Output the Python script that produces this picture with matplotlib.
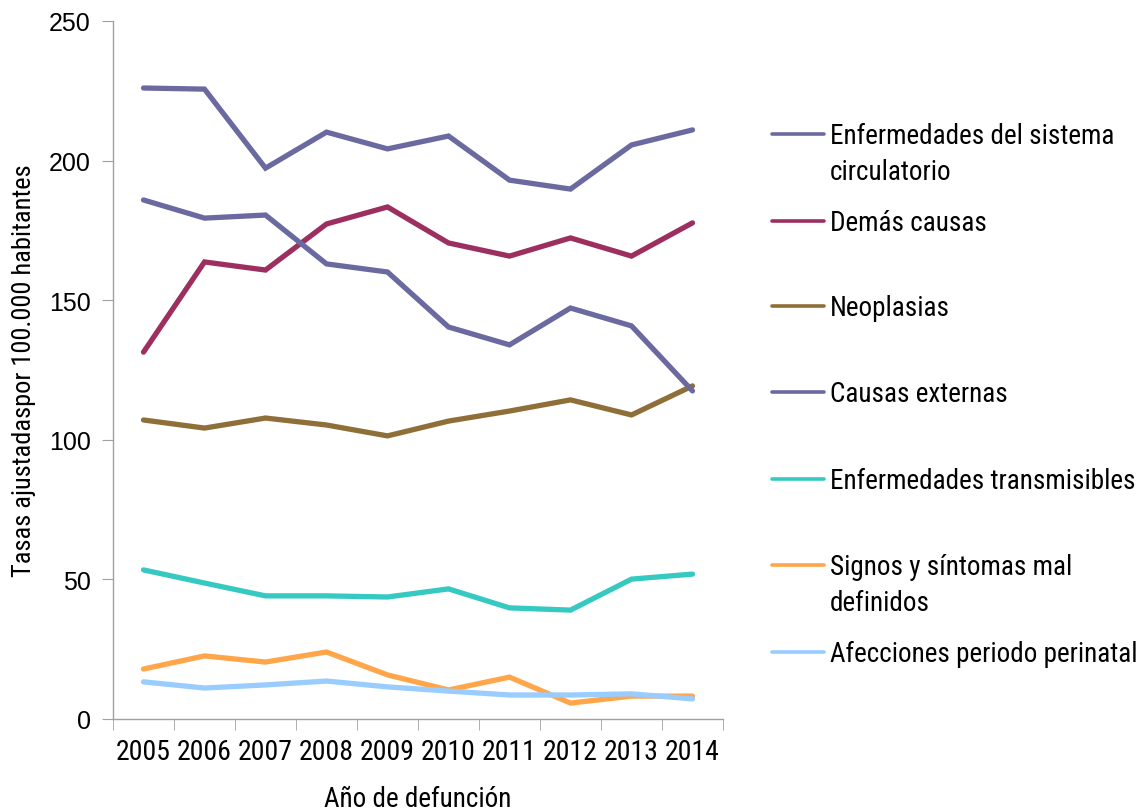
import numpy as np
import matplotlib
matplotlib.use("Agg")
import matplotlib.pyplot as plt
from matplotlib.lines import Line2D

years = ["2005", "2006", "2007", "2008", "2009", "2010", "2011", "2012", "2013", "2014"]

circulatorio = [226.0, 225.6, 197.3, 210.2, 204.2, 208.8, 193.0, 189.8, 205.6, 211.0]
demas_causas = [131.4, 163.7, 160.8, 177.3, 183.4, 170.5, 165.8, 172.3, 165.8, 177.7]
neoplasias = [107.1, 104.2, 107.8, 105.3, 101.4, 106.7, 110.3, 114.3, 108.9, 119.3]
causas_externas = [185.9, 179.4, 180.5, 163.0, 160.1, 140.4, 134.0, 147.2, 140.8, 117.5]
transmisibles = [53.4, 48.7, 44.1, 44.1, 43.7, 46.6, 39.8, 39.0, 50.1, 51.9]
signos = [17.9, 22.6, 20.4, 24.0, 15.8, 10.4, 15.0, 5.7, 8.2, 8.2]
perinatal = [13.3, 11.1, 12.2, 13.6, 11.5, 10.0, 8.6, 8.6, 9.0, 7.2]

labels = [
    "Enfermedades del sistema\ncirculatorio",
    "Demás causas",
    "Neoplasias",
    "Causas externas",
    "Enfermedades transmisibles",
    "Signos y síntomas mal\ndefinidos",
    "Afecciones periodo perinatal",
]
series = [circulatorio, demas_causas, neoplasias, causas_externas,
          transmisibles, signos, perinatal]
colors = ["#6a6aa0", "#9c2f5f", "#8e6f38", "#6a6aa0", "#36c9c2", "#ffa64a", "#99ccff"]

narrow = ["Roboto Condensed", "DejaVu Sans"]
W, H = 1138, 812
fig = plt.figure(figsize=(W / 100, H / 100), dpi=100)
ax = fig.add_axes([113 / W, 1 - 720 / H, 610 / W, 698 / H])

x = np.arange(len(years))
for vals, c in zip(series, colors):
    ax.plot(x, vals, color=c, lw=3.8, solid_capstyle="round", solid_joinstyle="miter")

ax.set_xlim(-0.5, len(years) - 0.5)
ax.set_ylim(0, 250)
ax.set_yticks(range(0, 251, 50))
ax.tick_params(axis="y", labelsize=18, length=8, color="#a0a0a0", pad=8)
for t in ax.get_yticklabels():
    t.set_family(["Liberation Sans", "DejaVu Sans"])

ax.set_xticks(x)
ax.set_xticklabels(years, family=narrow, fontsize=20)
ax.tick_params(axis="x", length=0, pad=14)
ax.set_xticks(np.arange(-0.5, len(years)), minor=True)
ax.tick_params(axis="x", which="minor", length=8, color="#a0a0a0")

for s in ["top", "right"]:
    ax.spines[s].set_visible(False)
for s in ["left", "bottom"]:
    ax.spines[s].set_color("#a0a0a0")
    ax.spines[s].set_linewidth(1.0)

ax.set_xlabel("Año de defunción", family=narrow, fontsize=19.5, labelpad=14)
ax.set_ylabel("Tasas ajustadaspor 100.000 habitantes", family=narrow, fontsize=19, labelpad=9)

# legend drawn by hand so the handle sits on the first line of each label
legend_y = [135, 222, 307, 393, 480, 566, 653]
for yy, lab, c in zip(legend_y, labels, colors):
    fy = 1 - yy / H
    fig.add_artist(Line2D([772 / W, 824 / W], [fy, fy], color=c, lw=2.6,
                          solid_capstyle="round", transform=fig.transFigure))
    fig.text(830 / W, 1 - (yy - 12) / H, lab, family=narrow, fontsize=19.5,
             va="top", ha="left", linespacing=1.45)

fig.savefig("out.png", dpi=100, facecolor="white")
